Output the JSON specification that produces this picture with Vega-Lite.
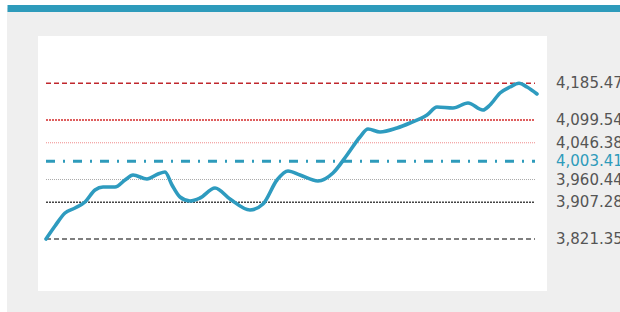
{
  "$schema": "https://vega.github.io/schema/vega-lite/v6.json",
  "width": 613,
  "height": 304,
  "autosize": {"type": "none"},
  "padding": {"left": 7, "top": 8, "right": 0, "bottom": 0},
  "background": "white",
  "config": {"view": {"stroke": null, "fill": "#efefef"}},
  "datasets": {
    "series": [
      {"day": 0, "value": 3821.35},
      {"day": 9, "value": 3851.75},
      {"day": 19, "value": 3882.15},
      {"day": 29, "value": 3893.85},
      {"day": 39, "value": 3907.88},
      {"day": 49, "value": 3935.94},
      {"day": 57, "value": 3942.96},
      {"day": 69, "value": 3942.96},
      {"day": 79, "value": 3959.33},
      {"day": 87, "value": 3971.02},
      {"day": 101, "value": 3961.67},
      {"day": 112, "value": 3973.36},
      {"day": 119, "value": 3978.04},
      {"day": 126, "value": 3947.63},
      {"day": 134, "value": 3919.57},
      {"day": 144, "value": 3910.22},
      {"day": 154, "value": 3917.23},
      {"day": 169, "value": 3940.62},
      {"day": 184, "value": 3914.89},
      {"day": 204, "value": 3889.17},
      {"day": 217, "value": 3903.2},
      {"day": 231, "value": 3959.33},
      {"day": 242, "value": 3980.37},
      {"day": 254, "value": 3971.02},
      {"day": 272, "value": 3956.99},
      {"day": 287, "value": 3975.7},
      {"day": 301, "value": 4017.79},
      {"day": 314, "value": 4059.89},
      {"day": 322, "value": 4078.6},
      {"day": 334, "value": 4071.58},
      {"day": 351, "value": 4080.93},
      {"day": 364, "value": 4092.63},
      {"day": 381, "value": 4111.34},
      {"day": 391, "value": 4130.05},
      {"day": 407, "value": 4127.71},
      {"day": 422, "value": 4139.4},
      {"day": 437, "value": 4123.03},
      {"day": 444, "value": 4134.72},
      {"day": 454, "value": 4162.79},
      {"day": 464, "value": 4176.82},
      {"day": 473, "value": 4185.47},
      {"day": 481, "value": 4176.82},
      {"day": 491, "value": 4160.45}
    ],
    "levels": [
      {"level": "max", "value": 4185.47},
      {"level": "upper2", "value": 4099.54},
      {"level": "upper1", "value": 4046.38},
      {"level": "mid", "value": 4003.41},
      {"level": "lower1", "value": 3960.44},
      {"level": "lower2", "value": 3907.28},
      {"level": "min", "value": 3821.35}
    ]
  },
  "layer": [
    {
      "data": {"values": [{"panel": "plot"}]},
      "mark": {"type": "rect", "color": "white"},
      "encoding": {
        "x": {"datum": -8, "type": "quantitative", "scale": {"domain": [-39, 574], "nice": false, "zero": false},
              "axis": {"orient": "top", "domain": true, "domainColor": "#2e9bbb", "domainWidth": 7, "labels": false, "ticks": false, "grid": false, "title": null}},
        "x2": {"datum": 501},
        "y": {"datum": 4296.08, "type": "quantitative", "scale": {"domain": [3650.63, 4361.57], "nice": false, "zero": false}, "axis": null},
        "y2": {"datum": 3699.74}
      }
    },
    {
      "data": {"name": "levels"},
      "mark": {"type": "rule"},
      "encoding": {
        "x": {"datum": 0, "type": "quantitative", "scale": {"domain": [-39, 574], "nice": false, "zero": false},
              "axis": {"orient": "top", "domain": true, "domainColor": "#2e9bbb", "domainWidth": 7, "labels": false, "ticks": false, "grid": false, "title": null}},
        "x2": {"datum": 489},
        "y": {"field": "value", "type": "quantitative", "scale": {"domain": [3650.63, 4361.57], "nice": false, "zero": false}, "axis": null},
        "color": {"field": "level", "type": "nominal", "legend": null,
                  "scale": {"domain": ["max", "upper2", "upper1", "mid", "lower1", "lower2", "min"],
                            "range": ["#c0272d", "#d42a2a", "#f08a8a", "#2e9bbb", "#aaaaaa", "#444444", "#555555"]}},
        "strokeDash": {"field": "level", "type": "nominal", "legend": null,
                  "scale": {"domain": ["max", "upper2", "upper1", "mid", "lower1", "lower2", "min"],
                            "range": [[5, 3], [2, 1], [1, 1], [9, 8, 2, 8], [1, 1], [2, 1], [5, 3]]}},
        "strokeWidth": {"condition": [
                          {"test": "datum.level === 'mid'", "value": 3},
                          {"test": "datum.level === 'upper1' || datum.level === 'lower1'", "value": 1}
                        ], "value": 1.4}
      }
    },
    {
      "data": {"name": "series"},
      "mark": {"type": "line", "interpolate": "monotone", "strokeWidth": 3.6, "color": "#2e9bbf", "strokeCap": "round", "strokeJoin": "round"},
      "encoding": {
        "x": {"field": "day", "type": "quantitative", "scale": {"domain": [-39, 574], "nice": false, "zero": false},
              "axis": {"orient": "top", "domain": true, "domainColor": "#2e9bbb", "domainWidth": 7, "labels": false, "ticks": false, "grid": false, "title": null}},
        "y": {"field": "value", "type": "quantitative", "scale": {"domain": [3650.63, 4361.57], "nice": false, "zero": false}, "axis": null}
      }
    },
    {
      "data": {"name": "levels"},
      "mark": {"type": "text", "align": "left", "baseline": "middle", "font": "DejaVu Sans", "fontSize": 15},
      "encoding": {
        "x": {"datum": 510, "type": "quantitative", "scale": {"domain": [-39, 574], "nice": false, "zero": false},
              "axis": {"orient": "top", "domain": true, "domainColor": "#2e9bbb", "domainWidth": 7, "labels": false, "ticks": false, "grid": false, "title": null}},
        "y": {"field": "value", "type": "quantitative", "scale": {"domain": [3650.63, 4361.57], "nice": false, "zero": false}, "axis": null},
        "text": {"field": "value", "type": "quantitative", "format": ",.2f"},
        "color": {"condition": {"test": "datum.level === 'mid'", "value": "#2e9bbb"}, "value": "#555555"}
      }
    }
  ]
}
